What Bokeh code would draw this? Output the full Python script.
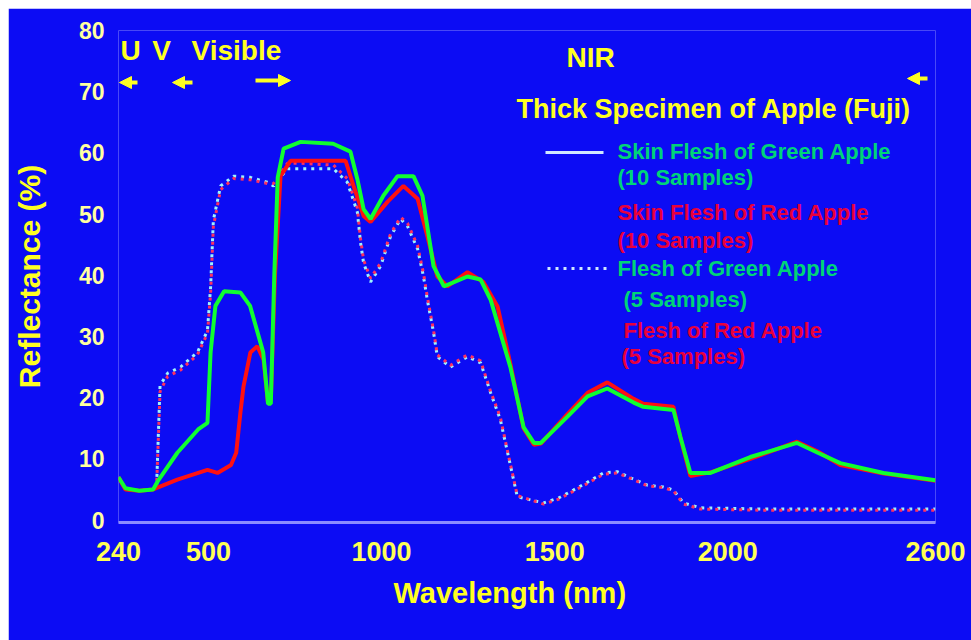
from bokeh.plotting import figure
from bokeh.models import Range1d, FixedTicker, Label, Arrow, NormalHead, Spacer, Title
from bokeh.layouts import column, row
from bokeh.embed import file_html
from bokeh.resources import INLINE

# ---------------- data ----------------
wl_skin_green = [240, 260, 300, 340, 355, 410, 470, 497, 506, 520, 545, 592, 620, 658, 672,
                 680, 690, 700, 717, 766, 860, 910, 930, 948, 968, 1005, 1046, 1092, 1118,
                 1150, 1180, 1248, 1286, 1315, 1372, 1410, 1440, 1460, 1537, 1595, 1652,
                 1728, 1756, 1843, 1863, 1892, 1950, 2065, 2200, 2260, 2325, 2450, 2600]
refl_skin_green = [7.0, 5.2, 4.8, 5.0, 6.5, 11.0, 14.8, 15.9, 27.4, 35.0, 37.4, 37.2, 35.0, 27.4, 19.0,
                   19.0, 40.0, 56.0, 60.7, 61.8, 61.5, 60.2, 55.7, 50.8, 49.2, 53.0, 56.2, 56.2, 53.0,
                   41.5, 38.2, 39.8, 39.3, 36.0, 25.0, 15.2, 12.6, 12.6, 16.9, 20.2, 21.5,
                   19.2, 18.5, 18.0, 13.6, 7.7, 7.7, 10.3, 12.6, 11.0, 9.3, 7.7, 6.5]

wl_skin_red = [240, 260, 300, 340, 410, 497, 526, 565, 580, 592, 601, 621, 641, 659, 672,
               680, 692, 708, 737, 896, 919, 948, 968, 1017, 1063, 1104, 1132, 1161, 1190,
               1248, 1294, 1335, 1372, 1410, 1440, 1460, 1537, 1595, 1652, 1728, 1756,
               1843, 1863, 1892, 1950, 2065, 2200, 2260, 2325, 2450, 2600]
refl_skin_red = [7.0, 5.0, 4.8, 5.0, 6.6, 8.2, 7.7, 9.0, 11.0, 17.5, 21.8, 27.4, 28.4, 26.2, 19.0,
                 19.5, 40.0, 56.2, 58.7, 58.7, 54.6, 49.7, 48.7, 52.0, 54.6, 52.5, 46.4, 39.8, 38.2,
                 40.5, 38.9, 34.9, 25.5, 15.0, 12.3, 12.5, 17.3, 20.8, 22.5, 19.8, 19.0,
                 18.5, 13.5, 7.2, 7.8, 10.0, 12.8, 11.2, 9.0, 7.6, 6.4]

wl_flesh_green = [240, 260, 300, 340, 350, 360, 382, 419, 468, 497, 506, 514, 535, 572, 621,
                  670, 688, 728, 766, 861, 901, 930, 939, 948, 968, 997, 1026, 1055, 1075,
                  1104, 1121, 1132, 1150, 1161, 1199, 1248, 1286, 1315, 1343, 1364, 1392,
                  1468, 1511, 1554, 1595, 1641, 1681, 1719, 1768, 1814, 1843, 1872, 1921,
                  2100, 2300, 2600]
refl_flesh_green = [7.0, 5.0, 4.8, 5.0, 5.5, 22.0, 24.0, 25.0, 27.4, 31.0, 38.0, 49.0, 54.6, 56.2, 56.0,
                    55.2, 54.6, 57.4, 57.4, 57.4, 55.2, 50.3, 45.4, 42.0, 38.9, 41.5, 46.4, 49.2, 48.0,
                    44.3, 39.8, 36.0, 30.7, 26.7, 25.0, 26.7, 25.7, 20.8, 16.4, 11.0, 3.8,
                    2.8, 3.6, 4.9, 6.2, 7.7, 7.9, 6.9, 5.7, 5.4, 4.9, 2.8, 2.0,
                    1.8, 1.8, 1.8]

wl_flesh_red = [240, 260, 300, 340, 350, 360, 382, 419, 468, 497, 506, 514, 535, 572, 621,
                670, 688, 728, 766, 861, 901, 930, 939, 948, 968, 997, 1026, 1055, 1075,
                1104, 1121, 1132, 1150, 1161, 1199, 1248, 1286, 1315, 1343, 1364, 1392,
                1468, 1511, 1554, 1595, 1641, 1681, 1719, 1768, 1814, 1843, 1872, 1921,
                2100, 2300, 2600]
refl_flesh_red = [7.0, 5.0, 4.8, 5.0, 5.5, 21.0, 23.5, 24.5, 27.0, 30.5, 37.0, 48.0, 54.0, 55.8, 55.6,
                  55.0, 55.0, 58.3, 58.3, 58.0, 55.8, 51.0, 46.0, 42.5, 39.5, 42.0, 46.8, 49.5, 48.5,
                  44.8, 40.3, 36.5, 31.0, 27.0, 25.3, 27.0, 26.0, 21.0, 16.8, 11.2, 4.0,
                  2.6, 3.4, 4.7, 6.0, 7.5, 7.7, 6.8, 5.6, 5.3, 4.8, 2.6, 1.8,
                  1.6, 1.6, 1.6]

x_ticks = [240, 500, 1000, 1500, 2000, 2600]
y_ticks = [0, 10, 20, 30, 40, 50, 60, 70, 80]

legend_lines = [
    ("Skin Flesh of Green Apple", "green"),
    ("(10 Samples)", "green"),
    ("Skin Flesh of Red Apple", "red"),
    ("(10 Samples)", "red"),
    ("Flesh of Green Apple", "green"),
    ("(5 Samples)", "green"),
    ("Flesh of Red Apple", "red"),
    ("(5 Samples)", "red"),
]

# ---------------- styles ----------------
BG = "#0c0cf4"
YEL = "#FFFF22"
TXT_GREEN = "#00D478"
TXT_RED = "#E8003C"
FONT = "Liberation Sans"

# frame placement in page pixels (figure sits at page offset 8,8 via spacers)
OFF = 8
X_MIN, X_MAX = 240, 2600
Y_MIN, Y_MAX = -0.4, 80
FL, FR, FT, FB = 118, 935, 30, 522


def px_x(px):
    return X_MIN + (px - FL) * (X_MAX - X_MIN) / (FR - FL)


def px_y(py):
    return Y_MAX - (py - FT) * (Y_MAX - Y_MIN) / (FB - FT)


W, H = 963, 632
p = figure(width=W, height=H, output_backend="svg", toolbar_location=None,
           x_range=Range1d(X_MIN, X_MAX), y_range=Range1d(Y_MIN, Y_MAX),
           min_border_left=FL - OFF, min_border_right=W - (FR - OFF),
           min_border_top=FT - OFF, min_border_bottom=H - (FB - OFF))

p.background_fill_color = BG
p.border_fill_color = BG
p.outline_line_color = None
p.grid.visible = False

# axes
p.xaxis.ticker = FixedTicker(ticks=x_ticks)
p.yaxis.ticker = FixedTicker(ticks=y_ticks)
for ax in (p.xaxis[0], p.yaxis[0]):
    ax.major_tick_line_color = None
    ax.minor_tick_line_color = None
    ax.major_tick_out = 0
    ax.major_tick_in = 0
    ax.minor_tick_out = 0
    ax.major_label_text_font = FONT
    ax.major_label_text_font_style = "bold"
    ax.axis_label_text_font = FONT
    ax.axis_label_text_font_style = "bold"
    ax.axis_label_text_color = YEL

p.xaxis.axis_line_color = "#8c8cff"
p.xaxis.axis_line_width = 3
p.xaxis.major_label_text_color = "#FFFF55"
p.xaxis.major_label_text_font_size = "27px"
p.xaxis.major_label_standoff = 19

p.yaxis.axis_line_color = None
p.yaxis.major_label_text_color = "#FFFFA0"
p.yaxis.major_label_text_font_size = "23px"
p.yaxis.major_label_standoff = 14
p.yaxis.axis_label = "Reflectance (%)"
p.yaxis.axis_label_text_font_size = "30px"
p.yaxis.axis_label_standoff = 30

# x-axis title as a Title below, so it can sit left of the frame centre as in the picture
x_title = Title(text="Wavelength (nm)", align="left", offset=393 - FL, standoff=22,
                text_font=FONT, text_font_style="bold", text_font_size="29px",
                text_color=YEL)
p.add_layout(x_title, "below")

# curves
p.line(wl_flesh_green, refl_flesh_green, line_color="#9cf4ff", line_width=3, line_dash="3 5")
p.line(wl_flesh_red, refl_flesh_red, line_color="#ff3060", line_width=3, line_dash="3 5",
       line_dash_offset=4)
p.line(wl_skin_red, refl_skin_red, line_color="#ff1010", line_width=4)
p.line(wl_skin_green, refl_skin_green, line_color="#10ff30", line_width=4)


# annotations
def label(px, py, text, size, color, align="left"):
    p.add_layout(Label(x=px_x(px), y=px_y(py), text=text, text_font=FONT,
                       text_font_style="bold", text_font_size=size, text_color=color,
                       text_align=align, text_baseline="middle"))


label(130, 50, "U", "28px", YEL, "center")
label(161, 50, "V", "28px", YEL, "center")
label(191, 50, "Visible", "28px", YEL)
label(566, 57, "NIR", "28px", YEL)
label(516, 108, "Thick Specimen of Apple (Fuji)", "27px", YEL)

leg_pos = [(617, 151), (617, 177), (617, 212), (617, 240),
           (617, 268), (623, 299), (623, 330), (621, 356)]
for (txt, kind), (lx, ly) in zip(legend_lines, leg_pos):
    label(lx, ly, txt, "22px", TXT_GREEN if kind == "green" else TXT_RED)

# legend samples
p.add_layout(Arrow(end=None, x_start=px_x(545), y_start=px_y(152), x_end=px_x(603), y_end=px_y(152),
                   line_color="#d0e8ff", line_width=3))
p.add_layout(Arrow(end=None, x_start=px_x(547), y_start=px_y(268), x_end=px_x(606), y_end=px_y(268),
                   line_color="#d0e8ff", line_width=3, line_dash="3 5"))


# range arrows
def arrow(px0, px1, py):
    p.add_layout(Arrow(end=NormalHead(size=12, fill_color=YEL, line_color=YEL),
                       x_start=px_x(px0), y_start=px_y(py), x_end=px_x(px1), y_end=px_y(py),
                       line_color=YEL, line_width=4))


arrow(137, 119, 82)
arrow(192, 172, 82)
arrow(255, 290, 80)
arrow(927, 907, 78)

page = column(Spacer(height=OFF, width=W + OFF),
              row(Spacer(width=OFF, height=H), p))

open("out.html", "w").write(file_html(page, INLINE))
